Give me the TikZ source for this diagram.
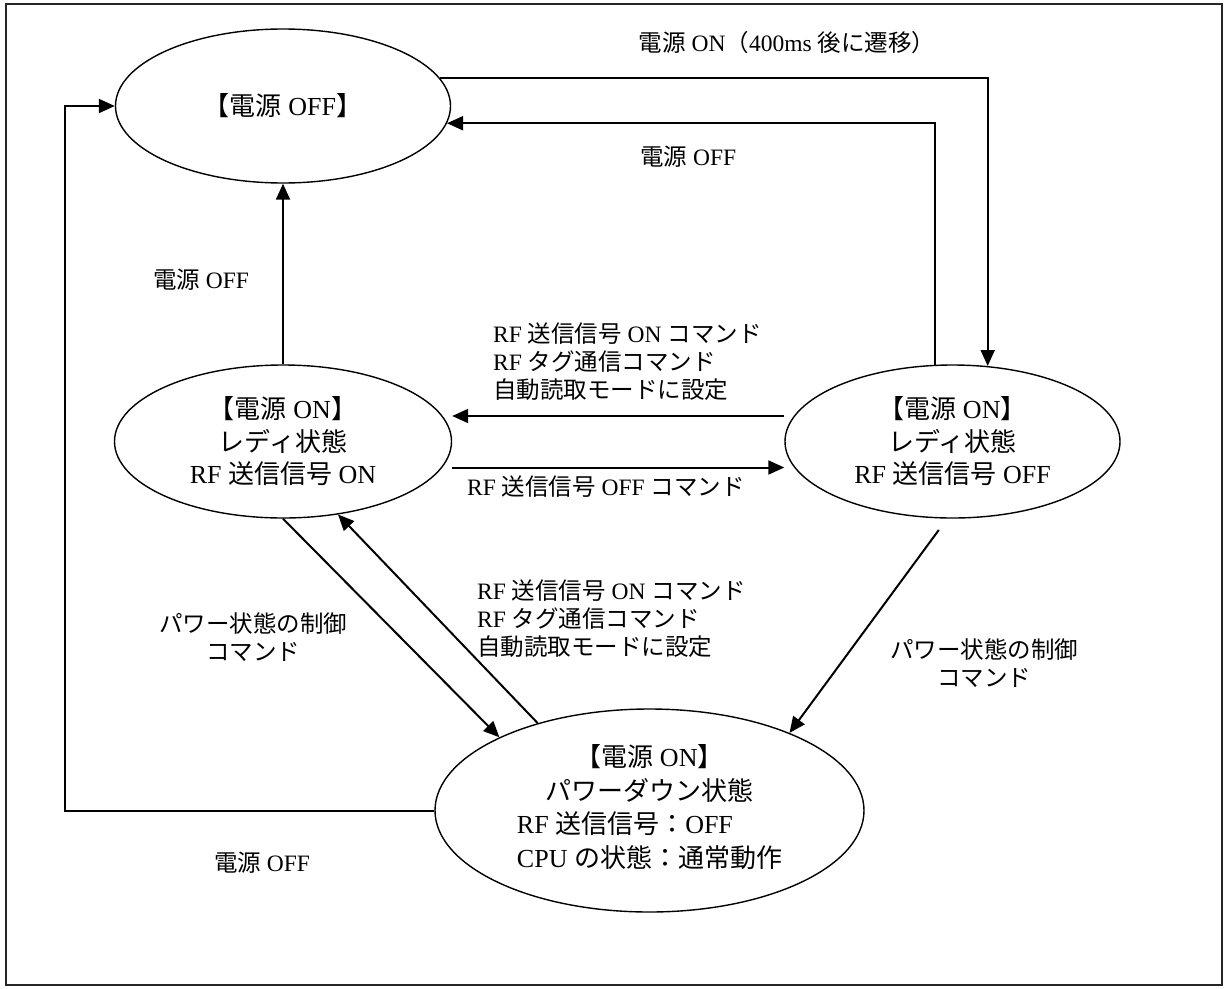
\documentclass[tikz,border=0pt]{standalone}
\usepackage{fontspec}
\setmainfont{Liberation Serif}
\newfontfamily\jp{Noto Sans CJK JP}
\usetikzlibrary{shapes.geometric,arrows.meta}
\newcommand\J[1]{{\jp #1}}
\begin{document}
\begin{tikzpicture}[x=1pt,y=-1pt,
  st/.style={ellipse,draw,line width=1.4pt,inner sep=0pt,font=\fontsize{26}{32.5}\selectfont,align=center},
  lab/.style={font=\fontsize{23.5}{28}\selectfont,inner sep=0pt},
  arr/.style={line width=2pt,-{Triangle[length=16pt,width=14pt]}}]
\useasboundingbox (0,0) rectangle (1230,988);
\draw[line width=1.5pt,black!85] (6,4) rectangle (1222,985);
% states
\node[st,minimum width=335pt,minimum height=154pt] (off) at (283,106) {\J{【電源} OFF\J{】}};
\node[st,minimum width=337pt,minimum height=153pt] (lrdy) at (283,441.5)
  {\J{【電源} ON\J{】}\\\J{レディ状態}\\RF \J{送信信号} ON};
\node[st,minimum width=335pt,minimum height=153pt] (rrdy) at (952.5,441.5)
  {\J{【電源} ON\J{】}\\\J{レディ状態}\\RF \J{送信信号} OFF};
\node[st,minimum width=429pt,minimum height=203pt,font=\fontsize{26}{33.5}\selectfont] (pd) at (649.5,810.5)
  {\begin{tabular}{@{}l@{}}
   \multicolumn{1}{@{}c@{}}{\J{【電源} ON\J{】}}\\
   \multicolumn{1}{@{}c@{}}{\J{パワーダウン状態}}\\
   RF \J{送信信号：}OFF\\
   CPU \J{の状態：通常動作}
   \end{tabular}};
% labels
\node[lab] (l1) at (787,43) {\J{電源} ON\J{（}400ms \J{後に遷移）}};
\node[lab,anchor=west] (l2) at (640,157) {\J{電源} OFF};
\node[lab] (l3) at (201,280) {\J{電源} OFF};
\node[lab,anchor=west,align=left] (l4) at (493,362)
  {RF \J{送信信号} ON \J{コマンド}\\RF \J{タグ通信コマンド}\\\J{自動読取モードに設定}};
\node[lab,anchor=west] (l5) at (467,487) {RF \J{送信信号} OFF \J{コマンド}};
\node[lab,anchor=west,align=left] (l6) at (477,619)
  {RF \J{送信信号} ON \J{コマンド}\\RF \J{タグ通信コマンド}\\\J{自動読取モードに設定}};
\node[lab,align=center] (l7) at (253,637) {\J{パワー状態の制御}\\\J{コマンド}};
\node[lab,align=center] (l8) at (984,663) {\J{パワー状態の制御}\\\J{コマンド}};
\node[lab] (l9) at (262,863) {\J{電源} OFF};
% connectors
\draw[arr] (off.10.2) -| (rrdy.65.3);
\draw[arr] (rrdy.103.7) |- (off.-6.7);
\draw[arr] (lrdy.north) -- (off.south);
\draw[arr] (pd.west) -| ([xshift=-49.5pt]off.west) -- (off.west);
\draw[arr] ([yshift=25.5pt]rrdy.west) -- ([yshift=25.5pt]lrdy.east);
\draw[arr] ([yshift=-26pt]lrdy.east) -- ([yshift=-26pt]rrdy.west);
\draw[arr] (lrdy.south) -- (pd.154.1);
\draw[arr] (pd.142.3) -- (lrdy.-53);
\draw[arr,shorten <=14pt] (rrdy.-94) -- (pd.29);
\end{tikzpicture}
\end{document}
